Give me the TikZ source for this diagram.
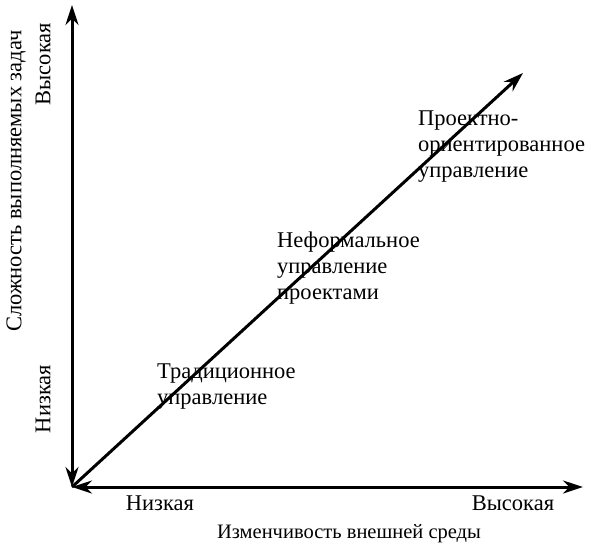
\documentclass[tikz,border=0pt]{standalone}
\usepackage{fontspec}
\setmainfont{Liberation Serif}
\usetikzlibrary{arrows.meta}
\begin{document}
\begin{tikzpicture}[x=1pt,y=-1pt,
ax/.style={line width=3pt,{Stealth[length=20pt,width=13pt]}-{Stealth[length=20pt,width=13pt]}},
lbl/.style={inner sep=0,font=\fontsize{22.5}{26}\selectfont},
ttl/.style={inner sep=0,font=\fontsize{20.5}{24}\selectfont},
blk/.style={lbl,align=left,anchor=north west}]
\useasboundingbox(0,0)rectangle(591,557);
\coordinate(o)at(72,487);\coordinate(top)at(72,5);\coordinate(rt)at(583,487);\coordinate(tip)at(523,73);
\draw[ax](top)--(o);\draw[ax](o)--(rt);
\draw[line width=3pt,-{Stealth[length=20pt,width=13pt]}](o)--(tip);
\node[blk](pro)at(418,111){Проектно-\\ориентированное\\управление};
\node[blk](nef)at(277,232){Неформальное\\управление\\проектами};
\node[blk](tra)at(157,364){Традиционное\\управление};
\node[lbl](xlo)at(160,503){Низкая};\node[lbl](xhi)at(513,503){Высокая};
\node[ttl](xt)at(349,534){Изменчивость внешней среды};
\node[lbl,rotate=90](ylo)at(43,399){Низкая};\node[lbl,rotate=90](yhi)at(43,64){Высокая};
\node[lbl,rotate=90](yt)at(16,181){Сложность выполняемых задач};
\end{tikzpicture}
\end{document}
